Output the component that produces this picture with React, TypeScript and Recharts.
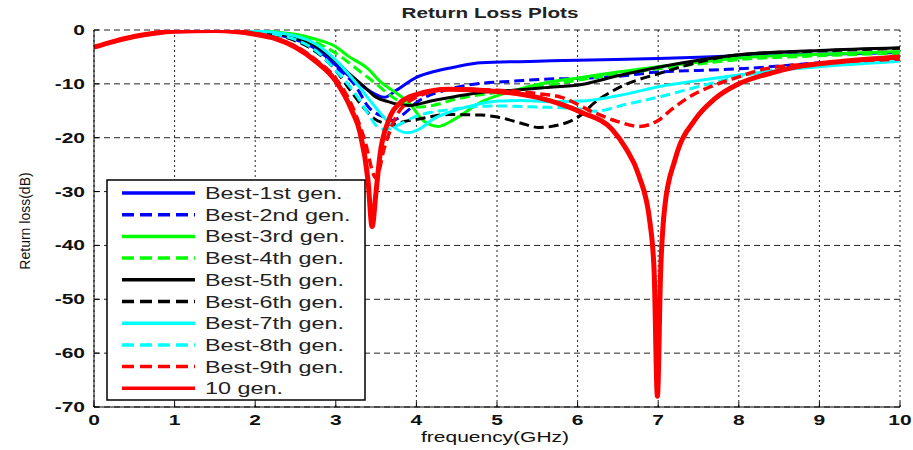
import { LineChart, Line, XAxis, YAxis, CartesianGrid } from "recharts";

// frequency (GHz), return loss (dB)
type Pt = [number, number];

const best1st: Pt[] = [
  [0, -3.2], [0.25, -2.1], [0.5, -1.2], [0.75, -0.6], [1, -0.25], [1.5, -0.1], [2, -0.3],
  [2.25, -0.8], [2.5, -1.8], [2.75, -3.5], [3, -6.5], [3.25, -9.5], [3.5, -12], [3.6, -12.5],
  [3.75, -11.2], [4, -8.8], [4.25, -7.6], [4.5, -6.8], [4.8, -6.1], [5.5, -5.8], [6, -5.6],
  [7, -5.3], [8, -4.8], [9, -4.5], [10, -4.2],
];

const best2nd: Pt[] = [
  [0, -3.2], [0.25, -2.1], [0.5, -1.2], [0.75, -0.6], [1, -0.25], [1.5, -0.1], [2, -0.3],
  [2.25, -0.8], [2.5, -1.8], [2.75, -3.6], [3, -6.8], [3.25, -10.5], [3.4, -14.2], [3.6, -16.2],
  [3.7, -16.8], [3.85, -15.5], [4, -13.5], [4.4, -11], [4.8, -9.9], [5.2, -9.5], [5.64, -9.1],
  [6, -9], [6.5, -8.6], [7, -7.8], [7.5, -7.5], [8, -7.2], [9, -6.1], [10, -5.2],
];

const best3rd: Pt[] = [
  [0, -3.2], [0.25, -2.1], [0.5, -1.2], [0.75, -0.6], [1, -0.25], [1.5, -0.1], [2, -0.2],
  [2.5, -0.8], [2.75, -1.7], [3, -3.1], [3.15, -4.8], [3.4, -7.2], [3.56, -9.7], [3.72, -11.4],
  [3.9, -13.4], [4.1, -17], [4.27, -17.9], [4.47, -16.6], [4.8, -13.4], [5.2, -11.3],
  [5.6, -9.8], [6.05, -8.8], [6.5, -7.8], [7, -6.8], [7.5, -6], [8, -5.2], [9, -4.5], [10, -4],
];

const best4th: Pt[] = [
  [0, -3.2], [0.25, -2.1], [0.5, -1.2], [0.75, -0.6], [1, -0.25], [1.5, -0.1], [2, -0.2],
  [2.5, -1.1], [2.75, -2.3], [3, -4.3], [3.31, -7.8], [3.5, -10], [3.69, -12.3], [3.9, -13.9],
  [4.05, -14.3], [4.2, -14], [4.5, -12.8], [5, -11.6], [5.5, -10.6], [6, -9.3], [6.5, -8.2],
  [7, -7.2], [7.5, -6.3], [8, -5.5], [9, -4.8], [10, -4.3],
];

const best5th: Pt[] = [
  [0, -3.2], [0.25, -2.1], [0.5, -1.2], [0.75, -0.6], [1, -0.25], [1.5, -0.1], [2, -0.3],
  [2.5, -1.5], [2.75, -3], [3, -5.8], [3.18, -8.3], [3.35, -10.5], [3.5, -12.5], [3.65, -13.3],
  [3.8, -13.9], [3.92, -14], [4.18, -13.2], [4.5, -12.3], [4.8, -11.6], [5.2, -11.2],
  [5.6, -10.7], [6.05, -10.1], [6.5, -8.5], [7, -6.9], [7.5, -5.6], [8, -4.6], [9, -3.8], [10, -3.3],
];

const best6th: Pt[] = [
  [0, -3.2], [0.25, -2.1], [0.5, -1.2], [0.75, -0.6], [1, -0.25], [1.5, -0.1], [2, -0.4],
  [2.5, -2], [2.75, -4], [3, -7.5], [3.18, -11.2], [3.35, -14.5], [3.48, -16.5], [3.6, -17.3],
  [3.7, -17.6], [3.85, -17], [4, -16.6], [4.4, -15.7], [4.8, -15.8], [5.02, -16.2], [5.3, -17.3],
  [5.52, -18.1], [5.8, -17.5], [6.05, -15.7], [6.21, -13.5], [6.5, -10.8], [7.05, -7.9],
  [7.67, -5.4], [8, -4.6], [9, -3.9], [10, -3.4],
];

const best7th: Pt[] = [
  [0, -3.2], [0.25, -2.1], [0.5, -1.2], [0.75, -0.6], [1, -0.25], [1.5, -0.1], [2, -0.2],
  [2.5, -1.1], [2.75, -2.6], [3, -5.6], [3.25, -9.8], [3.5, -14.5], [3.7, -17.8], [3.88, -19.1],
  [4.05, -18.3], [4.2, -16.6], [4.4, -15.3], [4.7, -14], [5.02, -13.2], [5.3, -13.1],
  [5.64, -13.3], [6.05, -13.2], [6.5, -12.2], [7.05, -10.4], [7.5, -9.4], [7.88, -8.6],
  [8.5, -7.5], [9.1, -6.7], [10, -5.8],
];

const best8th: Pt[] = [
  [0, -3.2], [0.25, -2.1], [0.5, -1.2], [0.75, -0.6], [1, -0.25], [1.5, -0.1], [2, -0.4],
  [2.5, -1.8], [2.75, -3.8], [3, -7.5], [3.25, -12], [3.4, -15.5], [3.52, -18], [3.62, -18.5],
  [3.75, -17.8], [4, -16], [4.4, -14.8], [5, -14.1], [5.5, -14.3], [6, -14.6], [6.21, -15.1],
  [6.6, -13.8], [7.05, -12.3], [7.5, -10.5], [7.88, -9.1], [8.5, -7.2], [9.5, -5.6], [10, -5.2],
];

const best9th: Pt[] = [
  [0, -3.2], [0.25, -2.1], [0.5, -1.2], [0.75, -0.6], [1, -0.25], [1.5, -0.1], [2, -0.6],
  [2.25, -1.5], [2.5, -3], [2.75, -5.5], [3, -9], [3.2, -14], [3.35, -20], [3.5, -27.5],
  [3.6, -22], [3.75, -16], [4, -12.5], [4.4, -11], [5, -11.2], [5.5, -11.8], [5.8, -12.5],
  [6.2, -15.3], [6.5, -17], [6.76, -17.9], [7, -16.8], [7.17, -14.7], [7.4, -12.3],
  [7.67, -10.4], [8, -8.7], [8.3, -7.3], [9, -6.2], [10, -5.4],
];

const gen10: Pt[] = [
  [0, -3.2], [0.25, -2.1], [0.5, -1.2], [0.75, -0.6], [1, -0.25], [1.5, -0.1], [2, -0.8],
  [2.25, -1.6], [2.5, -3.2], [2.75, -5.8], [3, -9.5], [3.2, -15], [3.3, -19], [3.4, -28],
  [3.45, -36.5], [3.5, -30], [3.55, -23], [3.65, -17], [3.8, -13.5], [4, -12], [4.4, -11],
  [5, -11.4], [5.5, -12.5], [5.8, -13.8], [6.05, -15.3], [6.43, -18.5], [6.6, -22], [6.76, -27],
  [6.9, -36], [6.95, -45], [6.99, -68], [7.03, -45], [7.08, -33], [7.21, -24], [7.46, -16.6],
  [7.7, -12.8], [8, -10], [8.4, -8], [8.7, -6.9], [9.3, -5.8], [10, -5],
];

const freqTicks = [0, 1, 2, 3, 4, 5, 6, 7, 8, 9, 10];
const lossTicks = [-70, -60, -50, -40, -30, -20, -10, 0];

const SERIES = [
  { name: "Best-1st gen.", color: "#0000ff", dashed: false, width: 3, pts: best1st },
  { name: "Best-2nd gen.", color: "#0000ff", dashed: true, width: 3, pts: best2nd },
  { name: "Best-3rd gen.", color: "#00ff00", dashed: false, width: 3, pts: best3rd },
  { name: "Best-4th gen.", color: "#00ff00", dashed: true, width: 3, pts: best4th },
  { name: "Best-5th gen.", color: "#000000", dashed: false, width: 3, pts: best5th },
  { name: "Best-6th gen.", color: "#000000", dashed: true, width: 3, pts: best6th },
  { name: "Best-7th gen.", color: "#00ffff", dashed: false, width: 3, pts: best7th },
  { name: "Best-8th gen.", color: "#00ffff", dashed: true, width: 3, pts: best8th },
  { name: "Best-9th gen.", color: "#ff0000", dashed: true, width: 3.5, pts: best9th },
  { name: "10 gen.", color: "#ff0000", dashed: false, width: 5, pts: gen10 },
];

const FONT = "'Liberation Sans', Arial, sans-serif";
const STRETCH = 1.5;

function XTick({ x, y, payload }: any) {
  return (
    <text
      transform={`translate(${x},${y}) scale(${STRETCH},1)`}
      textAnchor="middle"
      fontFamily={FONT}
      fontSize={14}
      fontWeight="bold"
      fill="#111"
    >
      {payload.value}
    </text>
  );
}

function YTick({ x, y, payload }: any) {
  return (
    <text
      transform={`translate(${x},${y + 5}) scale(${STRETCH},1)`}
      textAnchor="end"
      fontFamily={FONT}
      fontSize={14}
      fontWeight="bold"
      fill="#111"
    >
      {payload.value}
    </text>
  );
}

export default function App() {
  return (
    <div style={{ position: "absolute", left: 0, top: 0, width: 913, height: 450, background: "#fff" }}>
      <LineChart width={913} height={450} margin={{ top: 30, right: 13, bottom: 0, left: 0 }}>
        <CartesianGrid horizontal={false} stroke="#222" strokeDasharray="2 3" />
        <CartesianGrid vertical={false} stroke="#222" strokeDasharray="6 4" />
        <XAxis
          dataKey="f"
          type="number"
          domain={[0, 10]}
          ticks={freqTicks}
          height={43}
          stroke="#000"
          tickSize={-5}
          tickMargin={23}
          tick={<XTick />}
          allowDataOverflow
        />
        <XAxis xAxisId="top" orientation="top" type="number" domain={[0, 10]} ticks={freqTicks} height={0} stroke="#000" tick={false} tickLine={false} />
        <YAxis
          type="number"
          domain={[-70, 0]}
          ticks={lossTicks}
          width={94}
          stroke="#000"
          tickSize={-5}
          tickMargin={14}
          tick={<YTick />}
          allowDataOverflow
        />
        <YAxis yAxisId="right" orientation="right" type="number" domain={[-70, 0]} ticks={lossTicks} width={0} stroke="#000" tick={false} tickLine={false} />
        {SERIES.map((s) => (
          <Line
            key={s.name}
            data={s.pts.map(([f, v]) => ({ f, v }))}
            dataKey="v"
            type="monotone"
            stroke={s.color}
            strokeWidth={s.width}
            strokeDasharray={s.dashed ? "10 5" : undefined}
            dot={false}
            isAnimationActive={false}
          />
        ))}
      </LineChart>
      <svg width={913} height={450} style={{ position: "absolute", left: 0, top: 0, pointerEvents: "none" }}>
        <text
          transform={`translate(490,18) scale(1.38,1)`}
          textAnchor="middle"
          fontFamily={FONT}
          fontSize={15}
          fontWeight="bold"
          fill="#222"
        >
          Return Loss Plots
        </text>
        <text
          transform={`translate(495,442) scale(${STRETCH},1)`}
          textAnchor="middle"
          fontFamily={FONT}
          fontSize={14}
          fill="#111"
        >
          frequency(GHz)
        </text>
        <text
          transform="translate(30,221) rotate(-90)"
          textAnchor="middle"
          fontFamily={FONT}
          fontSize={14}
          fill="#111"
        >
          Return loss(dB)
        </text>
        <rect x={107} y={180} width={258} height={220} fill="#fff" stroke="#000" strokeWidth={1.5} />
        {SERIES.map((s, i) => {
          const cy = 193 + i * 21.7;
          return (
            <g key={s.name}>
              <line x1={122} x2={195} y1={cy} y2={cy} stroke={s.color} strokeWidth={3.5} strokeDasharray={s.dashed ? "12 6" : undefined} />
              <text transform={`translate(205,${cy + 6}) scale(1.46,1)`} fontFamily={FONT} fontSize={16} fill="#222">
                {s.name}
              </text>
            </g>
          );
        })}
      </svg>
    </div>
  );
}
